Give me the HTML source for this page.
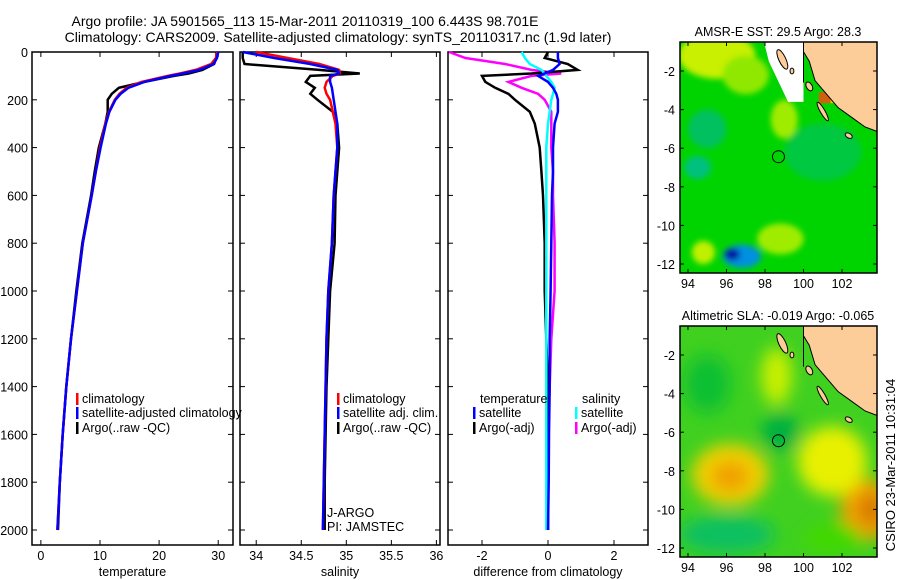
<!DOCTYPE html>
<html><head><meta charset="utf-8"><style>
body{margin:0;background:#fff}
svg{display:block;font-family:"Liberation Sans",sans-serif}
text{font-size:12.5px;fill:#000}
</style></head><body>
<svg id="s" width="900" height="580" viewBox="0 0 900 580">
<text x="305" y="26" text-anchor="middle" style="font-size:14px">Argo profile: JA 5901565_113 15-Mar-2011 20110319_100 6.443S 98.701E</text>
<text x="338" y="42" text-anchor="middle" style="font-size:14px">Climatology: CARS2009. Satellite-adjusted climatology: synTS_20110317.nc (1.9d later)</text>
<g id="p1"></g>
<g id="p2"></g>
<g id="p3"></g>
<g id="m1"></g>
<g id="m2"></g>
<text transform="translate(895,465) rotate(-90)" text-anchor="middle" style="font-size:13px">CSIRO 23-Mar-2011 10:31:04</text>
</svg>
<script>
const depths=[0,25,50,75,90,100,125,150,175,200,250,300,400,500,600,800,1000,1200,1400,1600,1800,2000];
const tempClim=[29.8,29.6,28.8,26.2,23.5,21.5,17,14.5,13.3,12.5,11.5,10.9,10.0,9.3,8.6,7.1,6.1,5.1,4.3,3.7,3.2,2.8];
const tempSat=[30.0,29.8,29.2,26.8,24,22,17.5,14.8,13.5,12.6,11.6,11.0,10.1,9.3,8.6,7.1,6.1,5.1,4.3,3.7,3.2,2.8];
const tempArgo=[29.7,29.7,29.3,27.3,25,22.5,17.5,13.2,12.0,11.3,11.3,10.9,9.8,9.1,8.5,7.0,6.0,5.1,4.3,3.7,3.2,2.9];
const salClim=[34.0,34.35,34.7,34.92,34.93,34.85,34.78,34.76,34.78,34.82,34.85,34.88,34.9,34.88,34.86,34.84,34.8,34.78,34.77,34.76,34.75,34.74];
const salSat=[33.85,34.2,34.6,34.9,34.92,34.82,34.82,34.84,34.85,34.86,34.88,34.9,34.9,34.88,34.86,34.84,34.8,34.78,34.77,34.76,34.75,34.74];
const salArgo=[33.85,33.85,33.87,34.7,35.15,34.6,34.55,34.65,34.6,34.68,34.85,34.9,34.92,34.9,34.88,34.87,34.82,34.8,34.78,34.77,34.76,34.76];
const dTsat=[0.3,0.3,0.35,0.15,-0.1,-0.3,0.0,0.15,0.25,0.3,0.3,0.2,0.15,0.15,0.12,0.1,0.08,0.05,0.05,0.03,0.02,0.0];
const dTargo=[0.0,-0.1,0.6,0.9,-0.5,-2.0,-1.9,-1.6,-1.2,-1.0,-0.55,-0.4,-0.25,-0.2,-0.15,-0.1,-0.1,-0.05,0.0,0.0,0.0,0.0];
const dSsat=[-0.8,-0.7,-0.55,-0.2,-0.1,-0.05,0.1,0.2,0.15,0.1,0.05,0.0,-0.05,-0.05,-0.05,-0.05,-0.05,-0.05,-0.05,-0.05,-0.05,-0.05];
const dSargo=[-3.0,-2.5,-1.3,-0.5,0.4,-0.5,-1.2,-0.8,-0.3,-0.1,0.1,0.1,0.1,0.15,0.15,0.2,0.2,0.1,0.05,0.0,0.0,0.0];
const depthTicks=[0,200,400,600,800,1000,1200,1400,1600,1800,2000];
const tempTicks=[0,10,20,30];
const salTicks=[34,34.5,35,35.5,36];
const diffTicks=[-2,0,2];
const NS='http://www.w3.org/2000/svg';
function mk(p,tag,at){const e=document.createElementNS(NS,tag);for(const k in at)e.setAttribute(k,at[k]);p.appendChild(e);return e;}
const Y=d=>52+d*0.239;
function panel(g,x0,x1,xmin,xmax,ticks,title,leftLabels){
  const X=v=>x0+(v-xmin)/(xmax-xmin)*(x1-x0);
  const b=mk(g,'rect',{x:x0,y:52,width:x1-x0,height:493,fill:'none',stroke:'#000','stroke-width':1.5});
  
  depthTicks.forEach(d=>{
    mk(g,'line',{x1:x0,x2:x0+5,y1:Y(d),y2:Y(d),stroke:'#000'});mk(g,'line',{x1:x1-5,x2:x1,y1:Y(d),y2:Y(d),stroke:'#000'});
    if(leftLabels){const t=mk(g,'text',{x:x0-4,y:Y(d)+5,'text-anchor':'end'});t.textContent=d;
      }
  });
  ticks.forEach(v=>{
    mk(g,'line',{x1:X(v),x2:X(v),y1:52,y2:57,stroke:'#000'});mk(g,'line',{x1:X(v),x2:X(v),y1:540,y2:545,stroke:'#000'});
    const t=mk(g,'text',{x:X(v),y:560,'text-anchor':'middle'});t.textContent=v;
    
  });
  const t=mk(g,'text',{x:(x0+x1)/2,y:576,'text-anchor':'middle'});t.textContent=title;
  
  return X;
}
function line(g,X,vals,col,name){
  const pts=vals.map((v,i)=>X(v).toFixed(1)+','+Y(depths[i]).toFixed(1)).join(' ');
  const p=mk(g,'polyline',{points:pts,fill:'none',stroke:col,'stroke-width':2.5});
  
}
function leg(g,x,y,col,txt){
  mk(g,'rect',{x:x,y:y-10,width:2.5,height:12,fill:col});
  const t=mk(g,'text',{x:x+6,y:y});t.textContent=txt;
  
}
const p1=document.getElementById('p1'),p2=document.getElementById('p2'),p3=document.getElementById('p3');
const X1=panel(p1,32,233,-1.5,32.5,tempTicks,'temperature',true);
line(p1,X1,tempArgo,'#000','argo-temperature-line');line(p1,X1,tempClim,'#f00','climatology-temperature-line');line(p1,X1,tempSat,'#00f','satellite-temperature-line');
leg(p1,76,403,'#f00','climatology');leg(p1,76,417,'#00f','satellite-adjusted climatology');leg(p1,76,432,'#000','Argo(..raw -QC)');
const X2=panel(p2,240,440,33.82,36.04,salTicks,'salinity',false);
line(p2,X2,salArgo,'#000','argo-salinity-line');line(p2,X2,salClim,'#f00','climatology-salinity-line');line(p2,X2,salSat,'#00f','satellite-salinity-line');
leg(p2,337,403,'#f00','climatology');leg(p2,337,417,'#00f','satellite adj. clim.');leg(p2,337,432,'#000','Argo(..raw -QC)');
let t=mk(p2,'text',{x:327,y:517});t.textContent='J-ARGO';
t=mk(p2,'text',{x:327,y:531});t.textContent='PI: JAMSTEC';
const X3=panel(p3,448,648,-3.03,3.03,diffTicks,'difference from climatology',false);
line(p3,X3,dSargo,'#f0f','argo-salinity-diff-line');line(p3,X3,dTargo,'#000','argo-temperature-diff-line');line(p3,X3,dSsat,'#0ff','satellite-salinity-diff-line');line(p3,X3,dTsat,'#00f','satellite-temperature-diff-line');
t=mk(p3,'text',{x:480,y:403});t.textContent='temperature';
t=mk(p3,'text',{x:582,y:403});t.textContent='salinity';
leg(p3,473,417,'#00f','satellite');leg(p3,473,432,'#000','Argo(-adj)');leg(p3,575,417,'#0ff','satellite');leg(p3,575,432,'#f0f','Argo(-adj)');

function map(g,top,latRef,yRef,title,blobs,base,isSst,idn){
  const lx=lon=>688+(lon-94)*19.25, ly=lat=>yRef+(-2-lat)*19.3;
  const defs=mk(g,'defs',{});
  const cp=mk(defs,'clipPath',{id:'c'+idn});mk(cp,'rect',{x:680,y:top,width:197,height:231});
  const f=mk(defs,'filter',{id:'f'+idn,x:'-50%',y:'-50%',width:'200%',height:'200%'});mk(f,'feGaussianBlur',{stdDeviation:isSst?3:8});
  const cg=mk(g,'g',{'clip-path':'url(#c'+idn+')'});
  mk(cg,'rect',{x:680,y:top,width:197,height:231,fill:base});
  const bg=mk(cg,'g',{filter:'url(#f'+idn+')'});
  blobs.forEach(b=>mk(bg,'ellipse',{cx:lx(b[0]),cy:ly(b[1]),rx:b[2]*19.25,ry:b[3]*19.3,fill:b[4]}));
  if(isSst){
    const w=[[97.9,-0.3],[100,-0.3],[100,-3.6],[99.2,-3.6],[98.2,-1.5]].map(p=>lx(p[0])+','+ly(p[1])).join(' ');
    mk(cg,'polygon',{points:w,fill:'#fff'});
    mk(cg,'rect',{x:lx(100.8),y:ly(-3.1),width:12,height:11,fill:'#d06010'});
    mk(cg,'rect',{x:lx(101.4),y:ly(-3.1),width:8,height:11,fill:'#f0c000'});
  }
  const land=[[100,-0.3],[104,-0.3],[104,-5.2],[103.2,-4.9],[102.5,-4.4],[101.8,-3.9],[101.2,-3.2],[100.6,-2.5],[100.3,-1.5],[100,-1.0]].map(p=>lx(p[0])+','+ly(p[1])).join(' ');
  const lp=mk(cg,'polygon',{points:land,fill:'#fccc99',stroke:'#000','stroke-width':1});
  
  mk(cg,'line',{x1:lx(100),y1:top,x2:lx(100),y2:ly(-2.6),stroke:'#000'});
  [[98.9,-1.4,0.18,0.55,-25],[99.4,-2.0,0.1,0.15,0],[100.3,-2.8,0.15,0.25,-30],[101.0,-4.1,0.12,0.55,-30],[102.35,-5.35,0.2,0.12,30]].forEach(s=>
    mk(cg,'ellipse',{cx:lx(s[0]),cy:ly(s[1]),rx:s[2]*19.25,ry:s[3]*19.3,fill:'#fccc99',stroke:'#000',transform:'rotate('+s[4]+' '+lx(s[0])+' '+ly(s[1])+')'}));
  const c=mk(cg,'circle',{cx:lx(98.7),cy:ly(-6.44),r:6,fill:'none',stroke:'#000'});
  
  mk(g,'rect',{x:680,y:top,width:197,height:231,fill:'none',stroke:'#000','stroke-width':1.5});
  [94,96,98,100,102].forEach(v=>{mk(g,'line',{x1:lx(v),x2:lx(v),y1:top,y2:top+4,stroke:'#000'});mk(g,'line',{x1:lx(v),x2:lx(v),y1:top+227,y2:top+231,stroke:'#000'});
    const tt=mk(g,'text',{x:lx(v),y:top+246,'text-anchor':'middle'});tt.textContent=v;});
  [-2,-4,-6,-8,-10,-12].forEach(v=>{mk(g,'line',{x1:680,x2:684,y1:ly(v),y2:ly(v),stroke:'#000'});mk(g,'line',{x1:873,x2:877,y1:ly(v),y2:ly(v),stroke:'#000'});
    const tt=mk(g,'text',{x:675,y:ly(v)+5,'text-anchor':'end'});tt.textContent=v;});
  const tt=mk(g,'text',{x:778,y:top-6,'text-anchor':'middle'});tt.textContent=title;
}
map(document.getElementById('m1'),42,-2,71,'AMSR-E SST: 29.5 Argo: 28.3',[
 [95.5,-1.2,2,1.2,'#c8f000'],[97,-2.2,1.2,1,'#90e800'],[95,-5,1,1,'#00c060'],[94.5,-7,0.7,0.6,'#00c080'],
 [99,-4.5,0.7,1,'#a0ec00'],[98.8,-10.7,1.2,0.8,'#a0ec00'],[94.8,-11.4,0.6,0.6,'#c0f000'],
 [96.8,-11.6,1,0.6,'#0090e0'],[96.3,-11.5,0.4,0.3,'#0010a0'],[101,-6.2,2,1.5,'#00c840']],'#00d400',true,1);
map(document.getElementById('m2'),326,-2,355,'Altimetric SLA: -0.019 Argo: -0.065',[
 [96.2,-8.2,2,1.6,'#f0d000'],[96.2,-8.3,1,0.8,'#f0a000'],[103.3,-10,1.4,1.6,'#f0a000'],[103.5,-10,0.5,0.8,'#d07000'],
 [101.5,-7.5,1.8,1.8,'#e8f000'],[98.6,-3.1,0.8,1.5,'#c8f000'],[98.8,-6,1,1,'#00b040'],
 [96,-11.3,2.5,1,'#10c060'],[95,-3.5,1.2,1.5,'#10c030'],[101.5,-11.5,1.5,0.8,'#40d800']],'#40d020',false,2);
</script>
</body></html>
